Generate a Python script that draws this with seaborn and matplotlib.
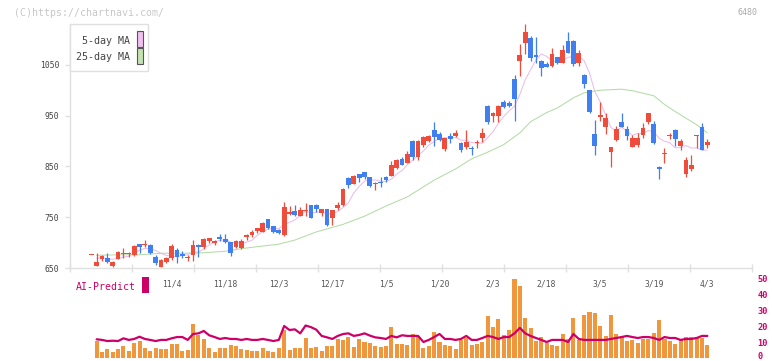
import numpy as np
import pandas as pd
import matplotlib
matplotlib.use("Agg")
import matplotlib.pyplot as plt
import matplotlib.transforms as mtransforms
from matplotlib.patches import Rectangle
import seaborn as sns

# daily candles
opens = [675, 654, 668, 670, 654, 668, 677, 678, 676, 697,
         696, 695, 672, 652, 662, 669, 685, 678, 670, 676,
         696, 691, 704, 699, 712, 708, 701, 692, 689, 711,
         715, 723, 721, 746, 733, 725, 715, 756, 762, 752,
         762, 774, 774, 759, 766, 748, 769, 774, 827, 815,
         835, 839, 829, 816, 819, 830, 832, 846, 865, 857,
         900, 868, 892, 900, 922, 913, 884, 909, 909, 897,
         889, 887, 897, 906, 968, 950, 950, 977, 975, 1023,
         1058, 1093, 1103, 1070, 1058, 1052, 1048, 1065, 1054, 1097,
         1097, 1054, 1030, 1000, 914, 948, 928, 878, 902, 937,
         924, 888, 892, 912, 937, 933, 848, 875, 910, 922,
         891, 836, 845, 909, 928, 892]
highs = [676, 680, 675, 679, 664, 684, 689, 682, 695, 698,
         705, 698, 676, 667, 671, 697, 690, 684, 676, 705,
         697, 710, 709, 705, 717, 717, 702, 705, 708, 717,
         724, 729, 741, 747, 733, 727, 780, 772, 775, 770,
         777, 775, 776, 767, 767, 765, 779, 808, 829, 833,
         835, 839, 829, 820, 829, 831, 861, 864, 868, 881,
         901, 901, 909, 911, 937, 918, 906, 916, 922, 898,
         922, 890, 901, 926, 971, 957, 970, 981, 978, 1029,
         1090, 1130, 1107, 1105, 1059, 1056, 1083, 1066, 1089, 1115,
         1098, 1079, 1031, 1001, 941, 977, 955, 889, 930, 955,
         930, 912, 916, 935, 956, 939, 851, 886, 916, 924,
         903, 868, 872, 912, 935, 903]
lows = [675, 654, 664, 660, 651, 667, 670, 672, 674, 679,
        691, 677, 656, 652, 659, 666, 659, 670, 664, 664,
        672, 688, 700, 695, 704, 699, 674, 690, 687, 705,
        711, 718, 720, 727, 718, 717, 713, 755, 753, 752,
        752, 748, 761, 753, 733, 735, 765, 773, 808, 815,
        820, 826, 810, 804, 810, 820, 831, 845, 852, 856,
        862, 863, 888, 898, 890, 900, 881, 896, 908, 878,
        884, 872, 886, 898, 933, 937, 937, 964, 967, 939,
        1028, 1072, 1057, 1054, 1028, 1045, 1046, 1051, 1053, 1073,
        1048, 1048, 1004, 955, 872, 939, 914, 849, 900, 927,
        902, 888, 888, 906, 933, 894, 825, 857, 904, 891,
        883, 830, 840, 886, 882, 887]
closes = [676, 662, 674, 662, 662, 682, 679, 680, 693, 692,
          698, 679, 660, 666, 670, 693, 672, 673, 672, 695,
          692, 708, 709, 704, 708, 702, 680, 704, 704, 715,
          721, 729, 739, 729, 721, 719, 770, 760, 754, 764,
          764, 749, 766, 767, 735, 764, 775, 805, 813, 832,
          827, 829, 812, 818, 817, 824, 853, 863, 853, 874,
          868, 900, 908, 910, 908, 902, 905, 904, 916, 882,
          898, 885, 899, 915, 937, 956, 969, 966, 969, 983,
          1070, 1115, 1063, 1066, 1043, 1046, 1071, 1054, 1079, 1074,
          1052, 1073, 1012, 958, 891, 951, 945, 888, 924, 928,
          910, 906, 906, 926, 955, 896, 844, 877, 911, 904,
          900, 863, 853, 912, 883, 899]

# 25-day MA read at a few points (earlier history not on the chart)
ma25_days = [1, 5, 9, 13, 17, 21, 25, 28, 31, 35, 38, 42, 47, 51, 55, 59, 64,
             68, 71, 74, 77, 80, 82, 85, 87, 90, 92, 95, 99, 101, 103, 105,
             107, 109, 111, 113, 115]
ma25_vals = [675, 676, 676, 679, 679, 680, 683, 688, 692, 697, 705, 721, 736,
             752, 772, 790, 823, 845, 865, 878, 893, 916, 938, 956, 965, 985,
             995, 1000, 1002, 999, 994, 989, 972, 958, 945, 932, 916]

# volume bars and AI-Predict line (bottom panel), days 1..115
volume = [10.6, 3.8, 5.6, 3.8, 5.6, 7.5, 4.4, 9.4, 10.6, 6.3,
          4.4, 6.3, 5.6, 5.6, 8.8, 8.8, 4.4, 5.0, 21.3, 14.4,
          11.9, 6.3, 3.8, 6.3, 6.3, 8.1, 7.5, 5.6, 5.0, 4.4,
          4.4, 6.3, 4.4, 3.8, 6.3, 17.5, 5.0, 6.3, 6.3, 12.5,
          6.0, 6.9, 4.4, 7.5, 7.5, 11.9, 11.3, 13.1, 6.9, 11.9,
          10.0, 9.4, 7.5, 6.9, 7.5, 19.4, 8.8, 8.8, 8.1, 15.0,
          13.1, 6.3, 7.5, 16.3, 10.0, 8.1, 7.5, 5.6, 11.3, 12.5,
          8.1, 8.8, 10.0, 26.3, 19.4, 24.4, 14.4, 17.5, 49.4, 45.0,
          25.0, 18.8, 10.6, 13.1, 9.4, 8.1, 7.5, 15.0, 11.9, 25.0,
          11.3, 26.9, 28.8, 28.1, 20.0, 13.8, 26.9, 15.0, 13.8, 10.6,
          11.3, 9.4, 11.9, 11.9, 15.6, 23.8, 11.9, 10.6, 8.8, 11.3,
          13.1, 13.1, 13.1, 12.5, 8.1]
ai_predict = [11.7, 11.3, 10.6, 10.8, 10.6, 12.3, 11.3, 11.9, 13.3, 11.9,
              11.3, 10.6, 11.3, 11.3, 12.3, 13.1, 13.1, 11.3, 15.0, 15.4,
              16.9, 14.2, 13.1, 11.9, 12.5, 11.9, 11.9, 11.3, 11.9, 11.3,
              11.3, 11.9, 11.3, 10.6, 11.3, 20.0, 17.5, 17.9, 15.4, 20.3,
              19.3, 17.7, 13.8, 12.9, 11.9, 13.8, 15.0, 15.4, 13.8, 14.4,
              15.4, 14.0, 12.9, 12.5, 11.9, 13.8, 12.9, 14.2, 13.8, 13.8,
              13.8, 10.0, 11.3, 13.1, 15.0, 11.9, 11.9, 11.3, 11.9, 13.8,
              11.3, 11.3, 12.5, 13.8, 13.1, 11.9, 13.1, 13.1, 15.4, 18.8,
              15.4, 13.8, 12.5, 11.3, 10.0, 11.3, 11.3, 11.3, 10.0, 15.0,
              11.9, 11.3, 11.3, 11.3, 11.3, 11.3, 11.9, 12.5, 13.1, 13.8,
              13.1, 12.5, 13.1, 13.1, 12.5, 11.3, 13.1, 12.5, 12.5, 11.3,
              11.9, 11.9, 12.5, 13.8, 13.8]

date_labels = ['11/4', '11/18', '12/3', '12/17', '1/5', '1/20', '2/3',
               '2/18', '3/5', '3/19', '4/3']
date_days = [15, 25, 35, 45, 55, 65, 75, 85, 95, 105, 115]

RED = '#f04c3c'
BLUE = '#3f7ff0'
PINK = '#ecbcec'
GREEN = '#b4dca6'
ORANGE = '#f0963c'
MAGENTA = '#cc0066'
GRID = '#e0e0e0'

sns.set_style("white")
plt.rcParams['font.family'] = ['DejaVu Sans Mono']

df = pd.DataFrame({'day': np.arange(len(closes)), 'open': opens,
                   'high': highs, 'low': lows, 'close': closes})
df['ma5'] = df['close'].rolling(5, min_periods=1).mean()
df['up'] = df['close'] >= df['open']
df['color'] = np.where(df['up'], RED, BLUE)
df['bottom'] = df[['open', 'close']].min(axis=1)
df['height'] = (df['close'] - df['open']).abs().clip(lower=2)

W, H = 772, 361
fig = plt.figure(figsize=(W / 100, H / 100), dpi=100)
ax = fig.add_axes([70 / W, (H - 268) / H, 682 / W, 244 / H])
ax2 = fig.add_axes([70 / W, 3 / H, 682 / W, 80 / H])
ax2.patch.set_alpha(0)

xlim = ((70 - 91.3) / 5.357, (752 - 91.3) / 5.357)

# candles
ax.vlines(df['day'], df['low'], df['high'], colors=df['color'], lw=0.9, zorder=2)
ax.bar(df['day'], df['height'], bottom=df['bottom'], width=0.9,
       color=df['color'], linewidth=0, zorder=3)

# moving averages
ma5 = df[df['day'] >= 1]
sns.lineplot(x=ma5['day'], y=ma5['ma5'], ax=ax, color=PINK, lw=0.75, zorder=1)
sns.lineplot(x=ma25_days, y=ma25_vals, ax=ax, color=GREEN, lw=0.75, zorder=1)

ax.set_xlim(xlim)
ax.set_ylim(650, 650 + (268 - 24) / 0.508)
ax.set_xlabel('')
ax.set_ylabel('')
for s in ['top', 'right']:
    ax.spines[s].set_visible(False)
for s in ['left', 'bottom']:
    ax.spines[s].set_color(GRID)
    ax.spines[s].set_linewidth(1.0)

ax.set_yticks([650, 750, 850, 950, 1050])
ax.tick_params(axis='y', which='major', left=True, length=3.6, width=1.0,
               color=GRID, labelsize=5.8, labelcolor='#444444', pad=4)
ax.set_xticks(np.linspace(xlim[0], xlim[1], 12))
ax.set_xticklabels([])
ax.tick_params(axis='x', which='major', bottom=True, direction='inout',
               length=6, width=1.0, color=GRID)
ax.set_xticks(date_days, minor=True)
ax.set_xticklabels(date_labels, minor=True)
ax.tick_params(axis='x', which='minor', length=0, labelsize=5.8,
               labelcolor='#555555', pad=8)

# bottom panel
vol_days = np.arange(1, len(closes))
ax2.bar(vol_days, volume, width=0.75, color=ORANGE, linewidth=0)
sns.lineplot(x=vol_days, y=ai_predict, ax=ax2, color=MAGENTA, lw=1.6)
ax2.set_xlim(xlim)
ax2.set_ylim(0, 50)
ax2.set_xticks([])
ax2.set_xlabel('')
ax2.set_ylabel('')
for s in ax2.spines.values():
    s.set_visible(False)
ax2.yaxis.tick_right()
ax2.set_yticks([0, 10, 20, 30, 40, 50])
ax2.tick_params(axis='y', length=0, labelsize=6.2, labelcolor=MAGENTA, pad=4)
for t in ax2.get_yticklabels():
    t.set_fontweight('bold')
# lift the "0" label a little so it stays inside the picture
zero_lbl = ax2.get_yticklabels()[0]
zero_lbl.set_transform(zero_lbl.get_transform() +
                       mtransforms.ScaledTranslation(0, 2.5 / 100, fig.dpi_scale_trans))


def fx(x):
    return x / W


def fy(y):
    return 1 - y / H


# legend box
fig.add_artist(Rectangle((fx(70), fy(71)), 78 / W, 47 / H, transform=fig.transFigure,
                         facecolor='white', edgecolor=GRID, lw=1.0, zorder=5))
fig.add_artist(Rectangle((fx(136.5), fy(46.5)), 6 / W, 15 / H, transform=fig.transFigure,
                         facecolor='#f0c0f0', edgecolor='#555555', lw=0.8, zorder=6))
fig.add_artist(Rectangle((fx(136.5), fy(63.5)), 6 / W, 15 / H, transform=fig.transFigure,
                         facecolor='#c2e2b2', edgecolor='#555555', lw=0.8, zorder=6))
fig.text(fx(129.5), fy(41.5), '5-day MA', ha='right', va='center', fontsize=7.2,
         color='#444444', zorder=6)
fig.text(fx(129.5), fy(57.5), '25-day MA', ha='right', va='center', fontsize=7.2,
         color='#444444', zorder=6)

# AI-Predict tag
fig.text(fx(76), fy(287), 'AI-Predict', ha='left', va='center', fontsize=7.1,
         color=MAGENTA)
fig.add_artist(Rectangle((fx(142), fy(293)), 7 / W, 16 / H, transform=fig.transFigure,
                         facecolor=MAGENTA, edgecolor='none'))

# header texts
fig.text(fx(13.5), fy(12.5), '(C)https://chartnavi.com/', ha='left', va='center',
         fontsize=7.1, color='#c8c8c8')
fig.text(fx(757.5), fy(12.5), '6480', ha='right', va='center', fontsize=6.0,
         color='#aaaaaa')

fig.savefig('out.png', dpi=100)
